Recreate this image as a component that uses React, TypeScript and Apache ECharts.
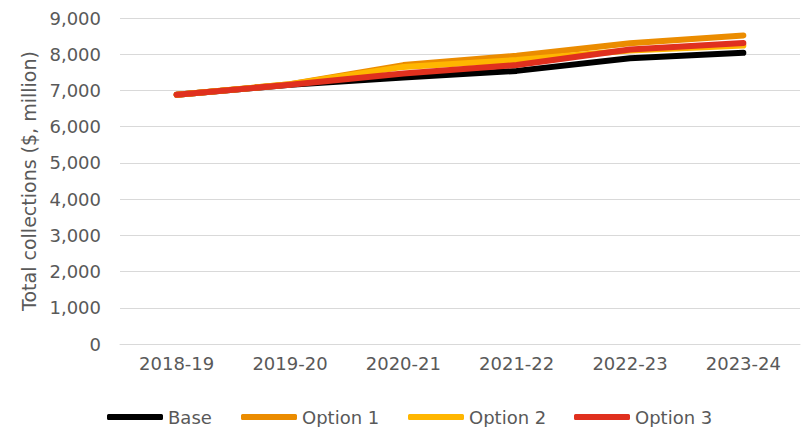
import React, { useEffect, useRef } from "react";
import * as echarts from "echarts";

const categories = ["2018-19", "2019-20", "2020-21", "2021-22", "2022-23", "2023-24"];
const baseValues = [6880, 7160, 7360, 7540, 7890, 8040];
const option1Values = [6880, 7170, 7700, 7960, 8300, 8520];
const option2Values = [6880, 7170, 7650, 7840, 8100, 8240];
const option3Values = [6880, 7160, 7470, 7700, 8130, 8310];
const seriesNames = ["Base", "Option 1", "Option 2", "Option 3"];
const seriesColors = ["#000000", "#EB8C00", "#FFB600", "#E0301E"];
const legendLefts = [107, 241, 408, 574];

export default function App() {
  const ref = useRef<HTMLDivElement>(null);
  useEffect(() => {
    if (!ref.current) return;
    const chart = echarts.init(ref.current, null, { renderer: "svg" });
    const font = "'DejaVu Sans', 'Liberation Sans', Arial, sans-serif";
    const data = [baseValues, option1Values, option2Values, option3Values];
    chart.setOption({
      animation: false,
      textStyle: { fontFamily: font },
      grid: { left: 120, right: 1, top: 18, bottom: 83, containLabel: false },
      legend: seriesNames.map((name, i) => ({
        left: legendLefts[i],
        top: 408,
        padding: 0,
        itemWidth: 56,
        itemHeight: 6,
        icon: "roundRect",
        textStyle: { fontSize: 18, color: "#595959", fontFamily: font },
        data: [name],
      })),
      xAxis: {
        type: "category",
        data: categories,
        boundaryGap: true,
        axisLine: { lineStyle: { color: "#d9d9d9", width: 1 } },
        axisTick: { show: false },
        axisLabel: { color: "#595959", fontSize: 18, margin: 10, fontFamily: font },
      },
      yAxis: {
        type: "value",
        min: 0,
        max: 9000,
        interval: 1000,
        name: "Total collections ($, million)",
        nameLocation: "middle",
        nameGap: 82,
        nameTextStyle: { color: "#595959", fontSize: 19, fontFamily: font },
        axisLine: { show: false },
        axisTick: { show: false },
        splitLine: { lineStyle: { color: "#d9d9d9", width: 1 } },
        axisLabel: {
          color: "#595959",
          fontSize: 18,
          margin: 19,
          fontFamily: font,
          formatter: (v: number) => v.toLocaleString("en-US"),
        },
      },
      series: seriesNames.map((name, i) => ({
        name,
        type: "line",
        data: data[i],
        showSymbol: false,
        symbol: "none",
        itemStyle: { color: seriesColors[i] },
        lineStyle: { color: seriesColors[i], width: 6, cap: "round", join: "round" },
      })),
    });
    return () => chart.dispose();
  }, []);
  return <div ref={ref} style={{ position: "absolute", left: 0, top: 0, width: 801, height: 427 }} />;
}
